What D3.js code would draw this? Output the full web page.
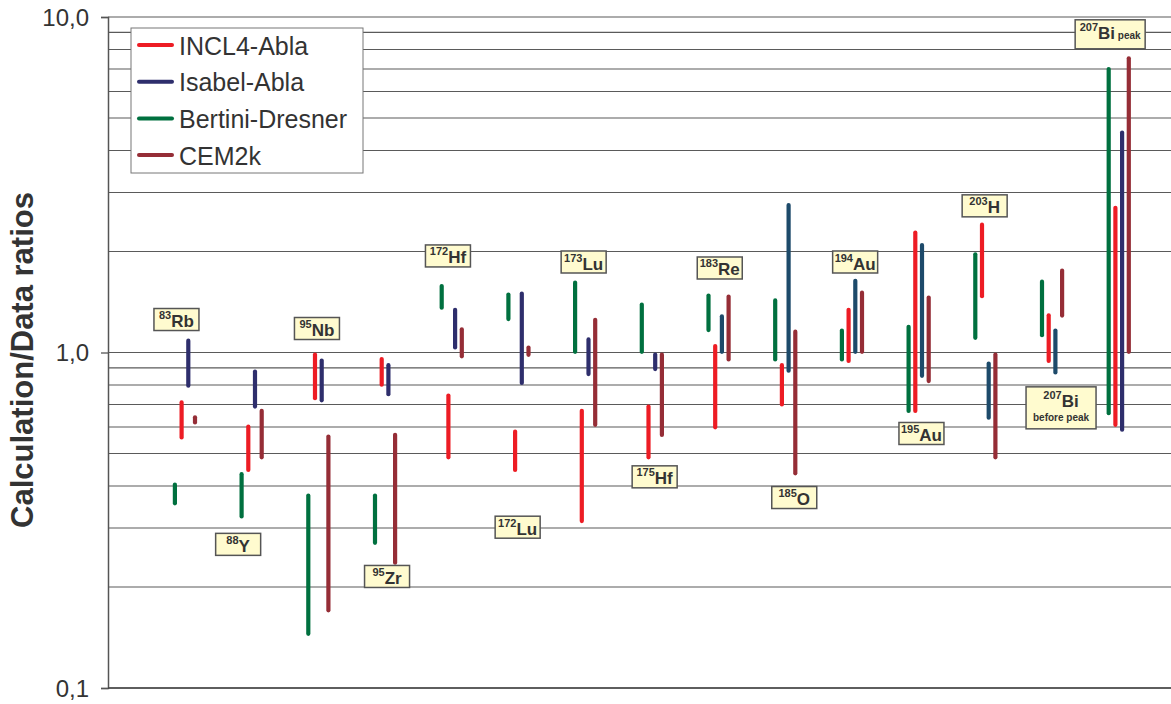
<!DOCTYPE html>
<html>
<head>
<meta charset="utf-8">
<script src="https://cdn.jsdelivr.net/npm/d3@7/dist/d3.min.js"></script>
<style>
  body { margin: 0; background: #fff; }
  text { font-family: "Liberation Sans", Arial, sans-serif; }
</style>
</head>
<body>
<div id="chart"></div>
<script>
// categories (nuclides), in plot order
const nuclides = ["83Rb", "88Y", "95Nb", "95Zr", "172Hf", "172Lu", "173Lu", "175Hf",
                  "183Re", "185Os", "194Au", "195Au", "203Hg", "207Bi-before", "207Bi-peak"];
const massNumbers = ["83", "88", "95", "95", "172", "172", "173", "175",
                     "183", "185", "194", "195", "203", "207", "207"];
const symbols = ["Rb", "Y", "Nb", "Zr", "Hf", "Lu", "Lu", "Hf",
                 "Re", "O", "Au", "Au", "H", "Bi", "Bi"];
const notes = ["", "", "", "", "", "", "", "", "", "", "", "", "", "before peak", "peak"];

// calculation/data ratio ranges [low, high] per nuclide
const incl4Abla = [[0.55, 0.72], [0.44, 0.61], [0.72, 1.0], [0.79, 0.97], [0.48, 0.755],
                   [0.44, 0.59], [0.31, 0.68], [0.48, 0.70], [0.59, 1.06], [0.69, 0.93],
                   [0.93, 1.36], [0.66, 2.31], [1.45, 2.44], [0.93, 1.31], [0.60, 2.74]];
const isabelAbla = [[0.785, 1.10], [0.68, 0.89], [0.71, 0.96], [0.74, 0.93], [1.02, 1.36],
                    [0.80, 1.52], [0.85, 1.11], [0.88, 1.0], [0.99, 1.30], [0.87, 2.79],
                    [0.99, 1.66], [0.84, 2.12], [0.63, 0.94], [0.86, 1.18], [0.58, 4.59]];
const bertiniDresner = [[0.35, 0.41], [0.32, 0.44], [0.143, 0.38], [0.267, 0.38], [1.34, 1.60],
                        [1.24, 1.51], [0.99, 1.64], [0.99, 1.41], [1.15, 1.50], [0.94, 1.45],
                        [0.94, 1.18], [0.66, 1.21], [1.09, 1.99], [1.11, 1.65], [0.65, 7.1]];
const cem2k = [[0.61, 0.65], [0.48, 0.68], [0.168, 0.57], [0.233, 0.577], [0.96, 1.19],
               [0.97, 1.05], [0.60, 1.27], [0.56, 1.0], [0.94, 1.49], [0.43, 1.17],
               [0.99, 1.53], [0.81, 1.48], [0.48, 1.0], [1.27, 1.78], [0.99, 7.64]];

const seriesNames = ["INCL4-Abla", "Isabel-Abla", "Bertini-Dresner", "CEM2k"];
const tickValues = [0.1, 1, 10];
const tickLabels = ["0,1", "1,0", "10,0"];

const width = 1171, height = 704;

let svg = d3.select("#chart").append("svg")
    .attr("width", width)
    .attr("height", height);

// scales
let y = d3.scaleLog().domain([0.1, 10]).range([688, 17]);
let x = d3.scaleBand().domain(nuclides).range([151.6, 1152.1]);
// order of bars inside a group: green, red, blue, dark red
let xSub = d3.scaleBand().domain(["Bertini-Dresner", "INCL4-Abla", "Isabel-Abla", "CEM2k"])
    .range([-13.4, 13.4]);

let colors = {
    "INCL4-Abla": "#ed1c24",
    "Isabel-Abla": "#2e2e6c",
    "Bertini-Dresner": "#00703f",
    "CEM2k": "#952d36"
};
// some Isabel bars are drawn in a bluer shade
let isabelAlt = new Set(["183Re", "185Os", "194Au", "195Au", "203Hg", "207Bi-before"]);

let plotLeft = 108, plotRight = width;

// gridlines at every minor log tick
let gridValues = [];
[0.1, 1].forEach(d => { for (let k = 1; k < 10; k++) gridValues.push(d * k); });
gridValues.push(10);

svg.append("g")
    .selectAll("line")
    .data(gridValues)
    .join("line")
    .attr("x1", plotLeft)
    .attr("x2", plotRight)
    .attr("y1", d => y(d))
    .attr("y2", d => y(d))
    .attr("stroke", "#5a5a5a")
    .attr("stroke-width", 1.1);

// y axis
let yAxis = d3.axisLeft(y)
    .tickValues(tickValues)
    .tickFormat((d, i) => tickLabels[i])
    .tickSize(7)
    .tickPadding(12);

let gy = svg.append("g")
    .attr("transform", `translate(${plotLeft},0)`)
    .call(yAxis);
gy.select(".domain").attr("stroke", "#555").attr("stroke-width", 1.5);
gy.selectAll(".tick line").attr("stroke", "#555").attr("stroke-width", 1.3);
gy.selectAll(".tick text")
    .attr("font-size", 24)
    .attr("fill", "#333")
    .attr("dy", "0.35em");

// bottom axis line
svg.append("line")
    .attr("x1", plotLeft)
    .attr("x2", plotRight)
    .attr("y1", y(0.1))
    .attr("y2", y(0.1))
    .attr("stroke", "#444")
    .attr("stroke-width", 1.6);

// y axis title
svg.append("text")
    .attr("transform", "translate(33,360) rotate(-90)")
    .attr("text-anchor", "middle")
    .attr("font-size", 31)
    .attr("font-weight", "bold")
    .attr("fill", "#333")
    .text("Calculation/Data ratios");

// range bars
let seriesData = {
    "INCL4-Abla": incl4Abla,
    "Isabel-Abla": isabelAbla,
    "Bertini-Dresner": bertiniDresner,
    "CEM2k": cem2k
};

let barWidth = 4.2;
let cap = barWidth / 2;

seriesNames.forEach(name => {
    let rows = nuclides.map((n, i) => ({ nuclide: n, lo: seriesData[name][i][0], hi: seriesData[name][i][1] }));
    svg.append("g")
        .selectAll("line")
        .data(rows)
        .join("line")
        .attr("x1", d => x(d.nuclide) + x.bandwidth() / 2 + xSub(name) + xSub.bandwidth() / 2)
        .attr("x2", d => x(d.nuclide) + x.bandwidth() / 2 + xSub(name) + xSub.bandwidth() / 2)
        .attr("y1", d => y(d.hi) + cap)
        .attr("y2", d => y(d.lo) - cap)
        .attr("stroke", d => (name === "Isabel-Abla" && isabelAlt.has(d.nuclide)) ? "#1d4a6a" : colors[name])
        .attr("stroke-width", barWidth)
        .attr("stroke-linecap", "round");
});

// legend
let legend = svg.append("g");
legend.append("rect")
    .attr("x", 131)
    .attr("y", 28)
    .attr("width", 232)
    .attr("height", 145)
    .attr("fill", "#fff")
    .attr("stroke", "#777")
    .attr("stroke-width", 1);

seriesNames.forEach((name, i) => {
    let ly = 45 + i * 36.7;
    legend.append("line")
        .attr("x1", 139)
        .attr("x2", 172)
        .attr("y1", ly)
        .attr("y2", ly)
        .attr("stroke", colors[name])
        .attr("stroke-width", 4)
        .attr("stroke-linecap", "round");
    legend.append("text")
        .attr("x", 179)
        .attr("y", ly + 9.5)
        .attr("font-size", 25)
        .attr("fill", "#333")
        .text(name);
});

// nuclide labels: [x offset from group centre, ratio value of box centre]
let labelLayout = [[-8.5, 1.254], [-13.5, 0.268], [-1.4, 1.179], [2, 0.215], [-3.8, 1.94],
                   [-0.8, 0.3015], [-1.5, 1.861], [2.8, 0.426], [1.2, 1.786], [9, 0.3696],
                   [3.2, 1.861], [2.8, 0.5736], [-0.7, 2.736], [9, 0.684], [-8.6, 8.88]];

nuclides.forEach((n, i) => {
    let cx = x(n) + x.bandwidth() / 2 + labelLayout[i][0];
    let cy = y(labelLayout[i][1]);
    let note = notes[i];
    let boxW = 45, boxH = 22, base = 7.5;
    if (note === "before peak") { boxW = 70; boxH = 42; base = -0.6; }
    if (note === "peak") { boxW = 70; boxH = 29; base = 4.5; }

    let g = svg.append("g");
    g.append("rect")
        .attr("x", cx - boxW / 2)
        .attr("y", cy - boxH / 2)
        .attr("width", boxW)
        .attr("height", boxH)
        .attr("fill", "#fffbcf")
        .attr("stroke", "#555")
        .attr("stroke-width", 1.5);

    let t = g.append("text")
        .attr("x", cx)
        .attr("y", cy + base)
        .attr("text-anchor", "middle")
        .attr("font-weight", "bold")
        .attr("fill", "#333");
    t.append("tspan")
        .attr("font-size", 11)
        .attr("dy", -8)
        .text(massNumbers[i]);
    t.append("tspan")
        .attr("font-size", 17)
        .attr("dy", 8)
        .text(symbols[i]);
    if (note === "peak") {
        t.append("tspan")
            .attr("font-size", 10)
            .text(" " + note);
    }
    if (note === "before peak") {
        g.append("text")
            .attr("x", cx)
            .attr("y", cy + 13.4)
            .attr("text-anchor", "middle")
            .attr("font-weight", "bold")
            .attr("font-size", 10)
            .attr("fill", "#333")
            .text(note);
    }
});
</script>
</body>
</html>
